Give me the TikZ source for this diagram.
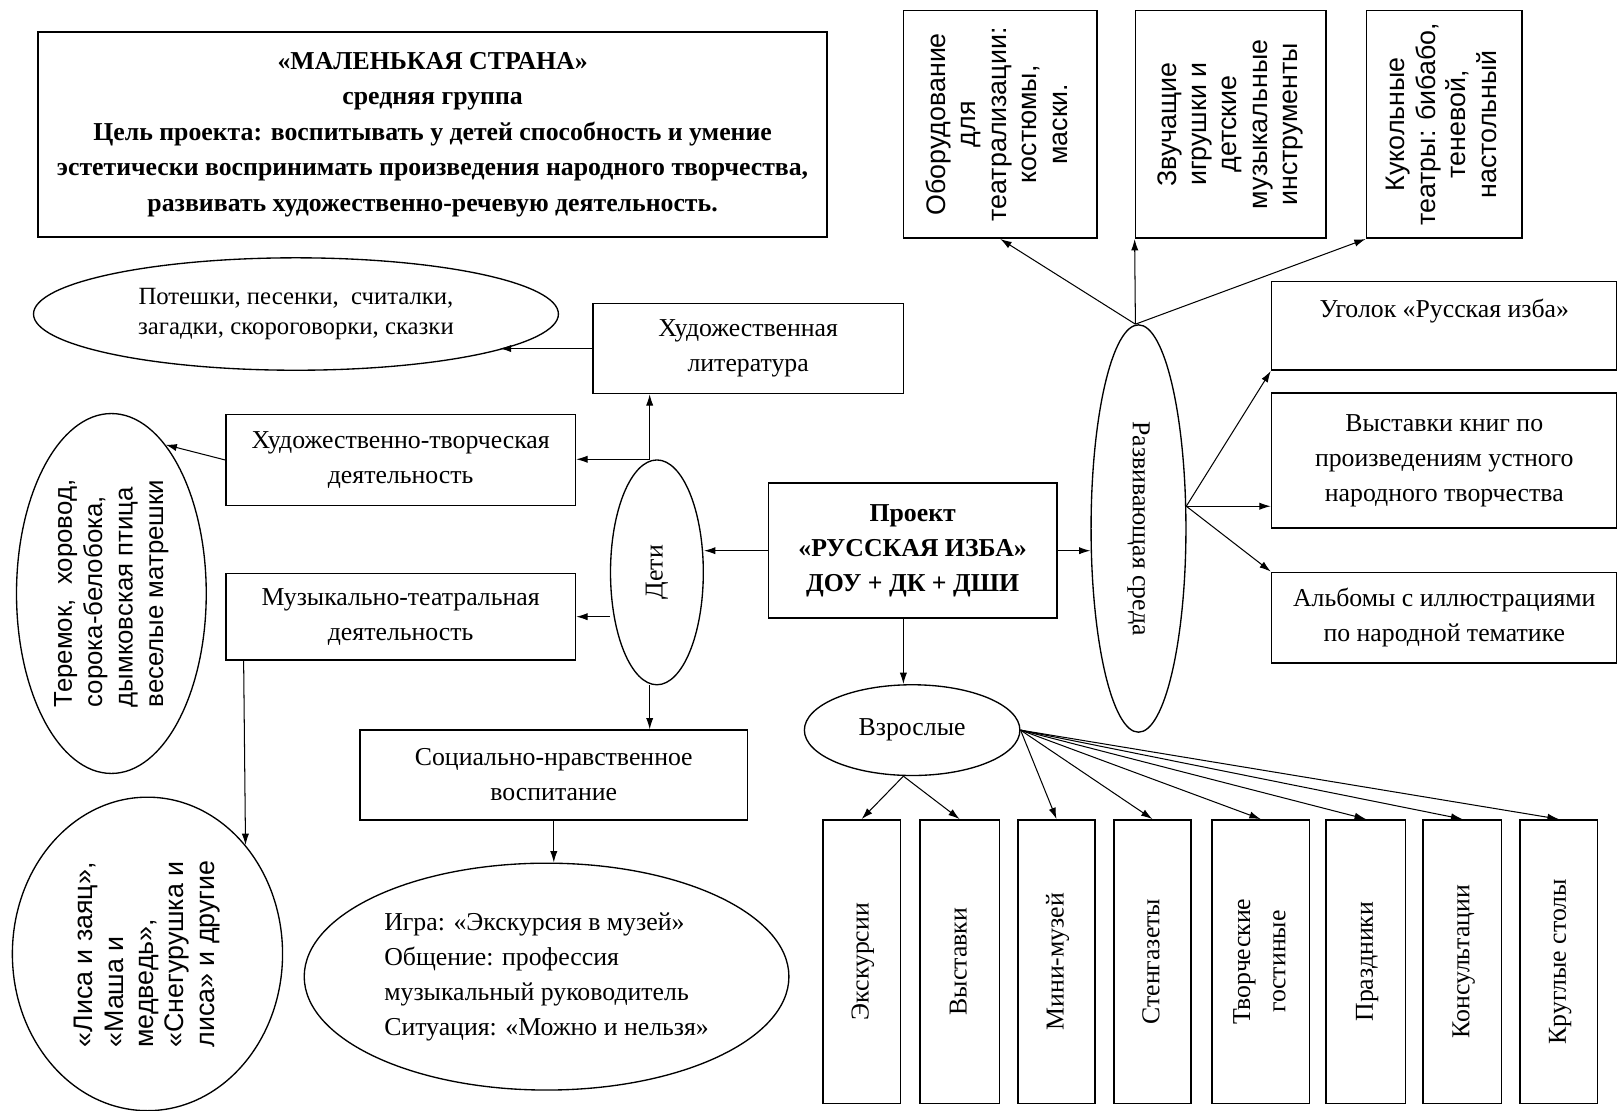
\documentclass[tikz,border=0pt]{standalone}
\usepackage{fontspec}
\setmainfont{Liberation Serif}
\newfontfamily\sansf{Liberation Sans}
\usepackage{graphicx}
\usetikzlibrary{shapes.geometric,arrows.meta}

\newcommand{\uptext}[2][c]{\rotatebox{90}{\begin{tabular}{@{}#1@{}}#2\end{tabular}}}

\tikzset{
  box/.style={draw, line width=1.5pt, inner sep=0pt, align=center},
  oval/.style={draw, ellipse, line width=1.3pt, inner sep=0pt, align=center},
  arr/.style={line width=1pt, -{Latex[length=11pt,width=7pt]}},
  rmtext/.style={font=\fontsize{25}{34}\selectfont},
  sftext/.style={font=\sansf\fontsize{26}{29.5}\selectfont}
}

\begin{document}
\begin{tikzpicture}[x=1pt,y=-1pt,rmtext]
\fill[white] (0,0) rectangle (1568,1077);
\useasboundingbox (0,0) rectangle (1568,1077);

\node[box, minimum width=765, minimum height=199, font=\bfseries\fontsize{25}{34.5}\selectfont] (title) at (419.5,130.5)
  {«МАЛЕНЬКАЯ СТРАНА»\\средняя группа\\Цель проекта: воспитывать у детей способность и умение\\эстетически воспринимать произведения народного творчества,\\развивать художественно-речевую деятельность.};

\node[box, sftext, minimum width=188, minimum height=221] (obor) at (970,120.5)
  {\uptext{Оборудование\\для\\театрализации:\\костюмы,\\маски.}};
\node[box, sftext, minimum width=185, minimum height=221] (zvuk) at (1193.5,120.5)
  {\uptext{Звучащие\\игрушки и\\детские\\музыкальные\\инструменты}};
\node[box, sftext, minimum width=151, minimum height=221] (kukl) at (1400.5,120.5)
  {\uptext{Кукольные\\театры: бибабо,\\теневой,\\настольный}};

\node[oval, minimum width=92, minimum height=395] (sreda) at (1104,512.5) {\rotatebox{-90}{Развивающая среда}};
\node[box, minimum width=335, minimum height=86] (ugol) at (1400.5,316) {Уголок «Русская изба»\\~};
\node[box, minimum width=335, minimum height=131] (knigi) at (1400.5,446.5) {Выставки книг по\\произведениям устного\\народного творчества};
\node[box, minimum width=335, minimum height=88] (albom) at (1400.5,599) {Альбомы с иллюстрациями\\по народной тематике};

\node[box, minimum width=280, minimum height=131, font=\bfseries\fontsize{25}{34}\selectfont] (proekt) at (885,534)
  {Проект\\«РУССКАЯ ИЗБА»\\ДОУ + ДК + ДШИ};

\node[oval, minimum width=90, minimum height=218] (deti) at (637,555) {\rotatebox{90}{Дети}};
\node[box, minimum width=301, minimum height=87] (lit) at (725.5,338) {Художественная\\литература};
\node[box, minimum width=339, minimum height=88] (tvor) at (388.5,446) {Художественно-творческая\\деятельность};
\node[box, minimum width=339, minimum height=84] (muz) at (388.5,598) {Музыкально-театральная\\деятельность};
\node[oval, minimum width=509, minimum height=109, font=\fontsize{24}{30}\selectfont] (potesh) at (287,304.5)
  {Потешки, песенки,\ \ считалки,\\загадки, скороговорки, сказки};
\node[oval, minimum width=184, minimum height=349, font=\sansf\fontsize{25}{29.5}\selectfont] (terem) at (108,575.5)
  {\uptext[l]{Теремок,\hfill хоровод,\\сорока-белобока,\\дымковская птица\\веселые матрешки}};
\node[oval, sftext, minimum width=262, minimum height=304] (lisa) at (143,925)
  {\uptext[l]{«Лиса и заяц»,\\«Маша и\\медведь»,\\«Снегурушка и\\лиса» и другие}};
\node[box, minimum width=376, minimum height=87] (soc) at (537,751.5) {Социально-нравственное\\воспитание};
\node[oval, minimum width=470, minimum height=220, align=left] (igra) at (530,947)
  {Игра: «Экскурсия в музей»\\Общение: профессия\\музыкальный руководитель\\Ситуация: «Можно и нельзя»};

\node[oval, minimum width=209, minimum height=88] (vzr) at (884.5,708) {Взрослые};
\foreach \i/\x/\w/\txt in {1/835.5/75/Экскурсии, 2/930.5/77/Выставки, 3/1024.5/75/Мини-музей,
    4/1117.5/75/Стенгазеты, 5/1222.5/95/{Творческие\\гостиные}, 6/1324.5/77/Праздники,
    7/1418/76/Консультации, 8/1511.5/75/Круглые столы}
  \node[box, minimum width=\w, minimum height=275] (b\i) at (\x,932.5) {\uptext{\txt}};

\draw[arr] (proekt.west) -- (proekt.west -| deti.east);
\draw[arr] (proekt.east) -- (proekt.east -| sreda.west);
\coordinate (pv) at ([xshift=-9pt]proekt.south);
\draw[arr] (pv) -- (pv |- vzr.north);

\coordinate (st) at ([xshift=-3pt]sreda.north);
\draw[arr] (st) -- (obor.south);
\draw[arr] (st) -- (zvuk.south west);
\draw[arr] (st) -- (kukl.south west);
\coordinate (sr) at (sreda.25);
\draw[arr] (sr) -- (ugol.south west);
\draw[arr] (sr) -- (sr -| knigi.west);
\draw[arr] (sr) -- (albom.north west);

\coordinate (dj) at ([xshift=-7pt]deti.north);
\coordinate (db) at (deti.south -| dj);
\draw[arr] (dj) -- (dj |- lit.south);
\draw[arr] (dj) -- (dj -| tvor.east);
\draw[arr] (muz.east -| deti.west) -- (muz.east);
\draw[arr] (db) -- (db |- soc.north);
\draw[arr] (lit.west) -- (lit.west -| potesh.350.5);
\draw[arr] (tvor.west) -- (terem.70);
\draw[arr] ([xshift=18pt]muz.south west) -- (lisa.48);
\draw[arr] (soc.south) -- (soc.south |- igra.north);

\coordinate (vs) at (vzr.south -| pv);
\draw[arr] (vs) -- (b1.north);
\draw[arr] (vs) -- (b2.north);
\foreach \i in {3,...,8}
  \draw[arr] (vzr.east) -- (b\i.north);

\end{tikzpicture}
\end{document}
